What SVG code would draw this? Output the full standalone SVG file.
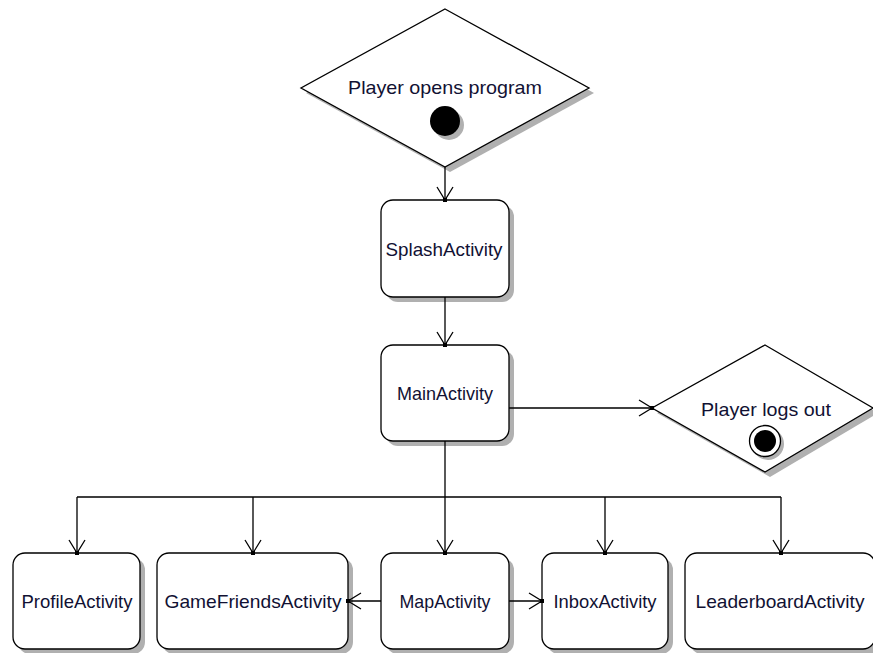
<svg xmlns="http://www.w3.org/2000/svg" width="873" height="653" viewBox="0 0 873 653">
  <defs>
    <filter id="soft" x="-10%" y="-10%" width="130%" height="130%">
      <feGaussianBlur stdDeviation="0.7"/>
    </filter>
  </defs>
  <style>
    .shadow { fill: #b0b0b0; }
    .shape { fill: #fff; stroke: #000; stroke-width: 1.3; }
    .lbl { font-family: "Liberation Sans", Arial, sans-serif; font-size: 18.5px; fill: #111133; text-anchor: middle; }
    .edge { fill: none; stroke: #000; stroke-width: 1.3; }
    .head { fill: none; stroke: #000; stroke-width: 1.3; }
    .tip { fill: #000; }
  </style>
  <rect width="873" height="653" fill="#fff"/>

  <!-- initial decision -->
  <g id="start">
    <polygon class="shadow" filter="url(#soft)" points="450,14 594,93 450,172 306,93"/>
    <polygon class="shape" points="445,9 589,88 445,167 301,88"/>
    <text class="lbl" x="445" y="94" textLength="194" lengthAdjust="spacingAndGlyphs">Player opens program</text>
    <circle class="shadow" filter="url(#soft)" cx="449" cy="125" r="15"/>
    <circle cx="445" cy="121" r="15" fill="#000"/>
  </g>

  <g id="splash">
    <rect class="shadow" filter="url(#soft)" x="386" y="205" width="128" height="97" rx="12"/>
    <rect class="shape" x="381" y="200" width="128" height="97" rx="12"/>
    <text class="lbl" x="444" y="256" textLength="117" lengthAdjust="spacingAndGlyphs">SplashActivity</text>
  </g>

  <g id="main">
    <rect class="shadow" filter="url(#soft)" x="386" y="350" width="128" height="96" rx="12"/>
    <rect class="shape" x="381" y="345" width="128" height="96" rx="12"/>
    <text class="lbl" x="445" y="400" textLength="96" lengthAdjust="spacingAndGlyphs">MainActivity</text>
  </g>

  <!-- final decision -->
  <g id="logout">
    <polygon class="shadow" filter="url(#soft)" points="770,350 878,413 770,477 657,413"/>
    <polygon class="shape" points="765,345 873,408 765,472 652,408"/>
    <text class="lbl" x="766" y="416" textLength="130" lengthAdjust="spacingAndGlyphs">Player logs out</text>
    <circle class="shadow" filter="url(#soft)" cx="768" cy="444" r="16"/>
    <circle cx="765" cy="441" r="15.5" fill="#fff" stroke="#000" stroke-width="1.3"/>
    <circle cx="765" cy="441" r="11" fill="#000"/>
  </g>

  <g id="profile">
    <rect class="shadow" filter="url(#soft)" x="18" y="558" width="127" height="96" rx="12"/>
    <rect class="shape" x="13" y="553" width="127" height="96" rx="12"/>
    <text class="lbl" x="77" y="608" textLength="111" lengthAdjust="spacingAndGlyphs">ProfileActivity</text>
  </g>

  <g id="gamefriends">
    <rect class="shadow" filter="url(#soft)" x="162" y="558" width="191" height="96" rx="12"/>
    <rect class="shape" x="157" y="553" width="191" height="96" rx="12"/>
    <text class="lbl" x="253" y="608" textLength="177" lengthAdjust="spacingAndGlyphs">GameFriendsActivity</text>
  </g>

  <g id="map">
    <rect class="shadow" filter="url(#soft)" x="386" y="558" width="128" height="96" rx="12"/>
    <rect class="shape" x="381" y="553" width="128" height="96" rx="12"/>
    <text class="lbl" x="445" y="608" textLength="91" lengthAdjust="spacingAndGlyphs">MapActivity</text>
  </g>

  <g id="inbox">
    <rect class="shadow" filter="url(#soft)" x="547" y="558" width="126" height="96" rx="12"/>
    <rect class="shape" x="542" y="553" width="126" height="96" rx="12"/>
    <text class="lbl" x="605" y="608" textLength="103" lengthAdjust="spacingAndGlyphs">InboxActivity</text>
  </g>

  <g id="leaderboard">
    <rect class="shadow" filter="url(#soft)" x="690" y="558" width="190" height="96" rx="12"/>
    <rect class="shape" x="685" y="553" width="190" height="96" rx="12"/>
    <text class="lbl" x="780" y="608" textLength="169" lengthAdjust="spacingAndGlyphs">LeaderboardActivity</text>
  </g>

  <!-- transitions: lines, open arrowheads, tip dots -->
  <g id="connectors">
    <path class="edge" d="M445,167 V200 M445,297 V345 M509,408 H652 M445,441 V553 M77,497 H781 M77,497 V553 M253,497 V553 M605,497 V553 M781,497 V553 M381,601 H348 M509,601 H542"/>
    <path class="head" d="M437,187 L445,200 L453,187 M437,332 L445,345 L453,332 M639,400 L652,408 L639,416 M437,540 L445,553 L453,540 M69,540 L77,553 L85,540 M245,540 L253,553 L261,540 M597,540 L605,553 L613,540 M773,540 L781,553 L789,540 M361,593 L348,601 L361,609 M529,593 L542,601 L529,609"/>
    <g class="tip">
      <rect x="443" y="198" width="4" height="4"/>
      <rect x="443" y="343" width="4" height="4"/>
      <rect x="650" y="406" width="4" height="4"/>
      <rect x="443" y="551" width="4" height="4"/>
      <rect x="75" y="551" width="4" height="4"/>
      <rect x="251" y="551" width="4" height="4"/>
      <rect x="603" y="551" width="4" height="4"/>
      <rect x="779" y="551" width="4" height="4"/>
      <rect x="346" y="599" width="4" height="4"/>
      <rect x="540" y="599" width="4" height="4"/>
    </g>
  </g>
</svg>
